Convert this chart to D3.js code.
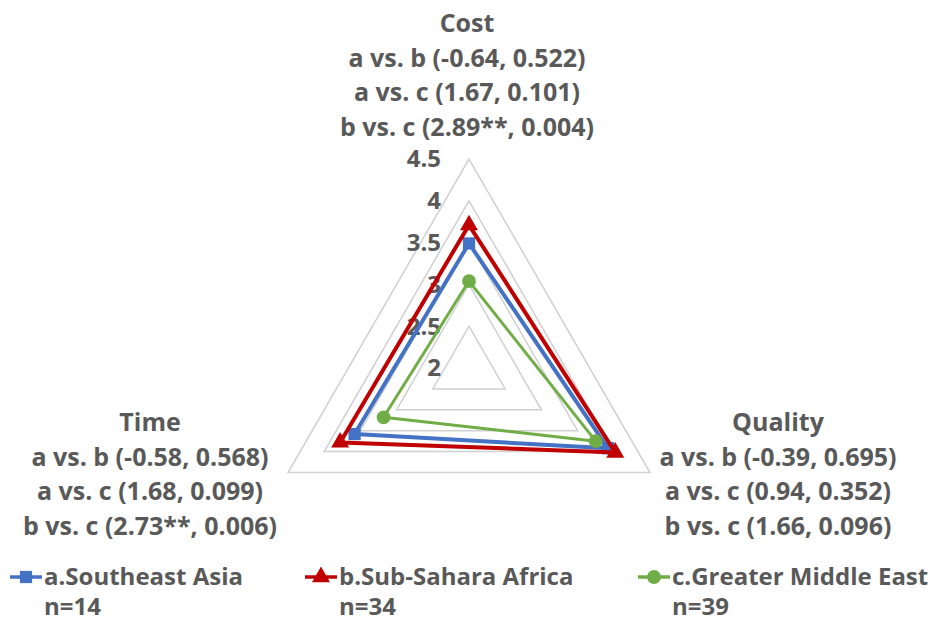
<!DOCTYPE html>
<html>
<head>
<meta charset="utf-8">
<script src="https://cdn.jsdelivr.net/npm/d3@7"></script>
<style>
  html, body { margin: 0; padding: 0; background: #fff; }
  svg text { font-family: "Open Sans", Lato, sans-serif; font-weight: bold; fill: #595959; }
</style>
</head>
<body>
<svg id="chart" width="936" height="621"></svg>
<script>
// Radar axes (clockwise from top)
const axes = ["Cost", "Quality", "Time"];

// Group means per axis, in the same order as `axes`
const seriesNames = ["a.Southeast Asia", "b.Sub-Sahara Africa", "c.Greater Middle East"];
const sampleSizes = ["n=14", "n=34", "n=39"];
const southeastAsia = [3.49, 3.92, 3.58];
const subSaharaAfrica = [3.71, 4.02, 3.78];
const greaterMiddleEast = [3.04, 3.75, 3.18];

// Radial tick values
const ticks = [2, 2.5, 3, 3.5, 4, 4.5];

// Pairwise comparison annotations (t, p) for each axis
const costNotes = ["a vs. b (-0.64, 0.522)", "a vs. c (1.67, 0.101)", "b vs. c (2.89**, 0.004)"];
const qualityNotes = ["a vs. b (-0.39, 0.695)", "a vs. c (0.94, 0.352)", "b vs. c (1.66, 0.096)"];
const timeNotes = ["a vs. b (-0.58, 0.568)", "a vs. c (1.68, 0.099)", "b vs. c (2.73**, 0.006)"];

const series = [
  { name: seriesNames[0], n: sampleSizes[0], values: southeastAsia, color: "#4472C4", width: 4, symbol: d3.symbolSquare, size: 150 },
  { name: seriesNames[1], n: sampleSizes[1], values: subSaharaAfrica, color: "#C00000", width: 4, symbol: d3.symbolTriangle, size: 140 },
  { name: seriesNames[2], n: sampleSizes[2], values: greaterMiddleEast, color: "#70AD47", width: 3, symbol: d3.symbolCircle, size: 150 }
];

const svg = d3.select("#chart");
const cx = 469, cy = 368;
const r = d3.scaleLinear().domain([2, 4.5]).range([0, 209]);
const angle = d3.scalePoint().domain(axes).range([-Math.PI / 2, -Math.PI / 2 + 2 * Math.PI * 2 / 3]);

function pt(axis, v) {
  const a = angle(axis), rr = r(v);
  return [cx + rr * Math.cos(a), cy + rr * Math.sin(a)];
}

// Grid triangles
const grid = svg.append("g");
ticks.filter(t => t > 2).forEach(t => {
  grid.append("path")
    .attr("d", d3.line().curve(d3.curveLinearClosed)(axes.map(ax => pt(ax, t))))
    .attr("fill", "none")
    .attr("stroke", "#D0D0D0")
    .attr("stroke-width", 1.5);
});

// Tick labels along the Cost axis
svg.append("g").selectAll("text").data(ticks).join("text")
  .attr("x", cx - 28)
  .attr("y", d => pt("Cost", d)[1])
  .attr("dy", "0.35em")
  .attr("text-anchor", "end")
  .attr("font-size", 24)
  .text(d => d);

// Series polygons and markers
series.forEach(s => {
  const pts = axes.map((ax, i) => pt(ax, s.values[i]));
  const g = svg.append("g");
  g.append("path")
    .attr("d", d3.line().curve(d3.curveLinearClosed)(pts))
    .attr("fill", "none")
    .attr("stroke", s.color)
    .attr("stroke-width", s.width)
    .attr("stroke-linejoin", "round");
  g.selectAll("path.m").data(pts).join("path")
    .attr("class", "m")
    .attr("transform", d => `translate(${d[0]},${d[1]})`)
    .attr("d", d3.symbol().type(s.symbol).size(s.size))
    .attr("fill", s.color);
});

// Axis titles with comparison notes
function block(x, y0, title, notes) {
  const t = svg.append("text").attr("text-anchor", "middle").attr("font-size", 25);
  [title].concat(notes).forEach((line, i) => {
    t.append("tspan").attr("x", x).attr("y", y0 + i * 34.5).text(line);
  });
}
block(467, 32, axes[0], costNotes);
block(150, 431, axes[2], timeNotes);
block(778, 431, axes[1], qualityNotes);

// Legend
const legendX = [10, 305, 638];
series.forEach((s, i) => {
  const g = svg.append("g").attr("transform", `translate(${legendX[i]},0)`);
  g.append("line").attr("x1", 0).attr("x2", 32).attr("y1", 577).attr("y2", 577)
    .attr("stroke", s.color).attr("stroke-width", 3.5);
  g.append("path").attr("transform", "translate(16,577)")
    .attr("d", d3.symbol().type(s.symbol).size(s.size)).attr("fill", s.color);
  g.append("text").attr("x", 34).attr("y", 585).attr("font-size", 24).text(s.name);
  g.append("text").attr("x", 34).attr("y", 615).attr("font-size", 24).text(s.n);
});
</script>
</body>
</html>
